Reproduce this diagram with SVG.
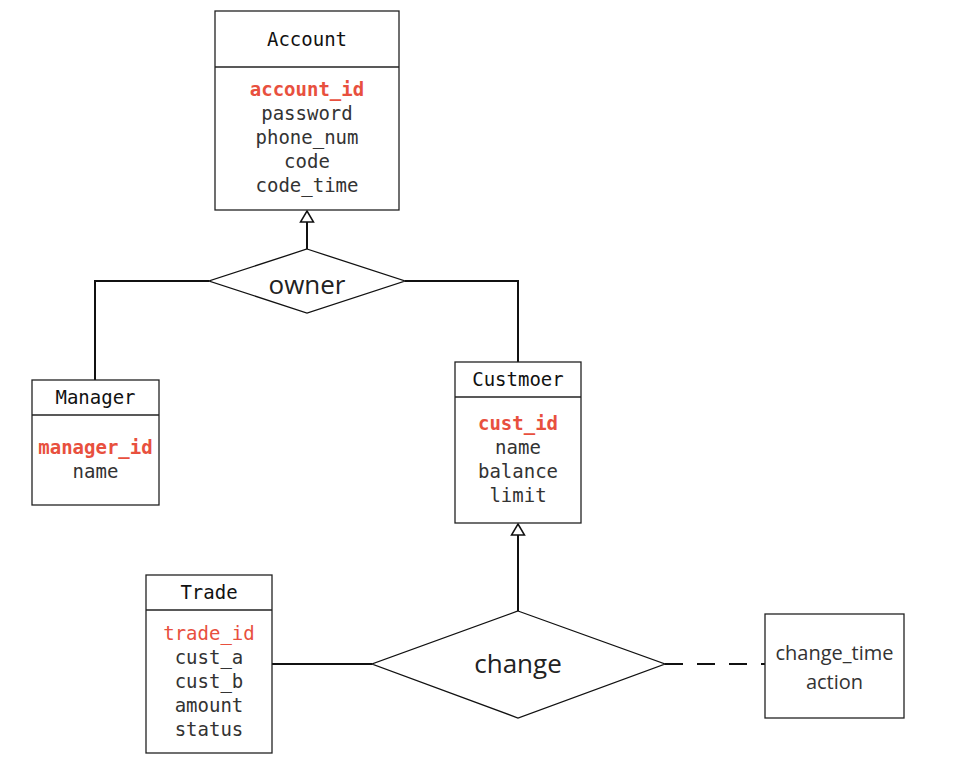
<svg xmlns="http://www.w3.org/2000/svg" width="954" height="768" viewBox="0 0 954 768">
<defs>
<style>
.box{fill:#fff;stroke:#222;stroke-width:1.3}
.title{font-family:"DejaVu Sans Mono","Liberation Mono",monospace;font-size:19px;fill:#111;text-anchor:middle}
.attr{font-family:"DejaVu Sans Mono","Liberation Mono",monospace;font-size:19px;fill:#333;text-anchor:middle}
.pk{fill:#e8503e;font-weight:bold}
.pk2{fill:#e8503e}
.rel{fill:#fff;stroke:#111;stroke-width:1.3}
.reltext{font-family:"Open Sans","Noto Sans",sans-serif;fill:#222;text-anchor:middle}
.conn{fill:none;stroke:#111;stroke-width:2}
.head{fill:#fff;stroke:#111;stroke-width:1.5}
.sans{font-family:"Open Sans","Noto Sans",sans-serif;font-size:20px;fill:#333;text-anchor:middle}
</style>
</defs>
<rect width="954" height="768" fill="#fff"/>
<g id="connectors">
<line class="conn" x1="307" y1="249" x2="307" y2="222"/>
<polyline class="conn" points="209,281 95,281 95,380"/>
<polyline class="conn" points="405,281 518,281 518,362"/>
<line class="conn" x1="518" y1="611" x2="518" y2="535"/>
<line class="conn" x1="272" y1="664" x2="372" y2="664"/>
<line class="conn" x1="665" y1="664" x2="765" y2="664" stroke-dasharray="18,14"/>
<path class="head" d="M307,211 L313.5,222 L300.5,222 Z"/>
<path class="head" d="M518,524 L524.5,535 L511.5,535 Z"/>
</g>
<g id="account">
<rect class="box" x="215" y="11" width="184" height="199"/>
<line class="box" x1="215" y1="67" x2="399" y2="67"/>
<text class="title" x="307" y="46">Account</text>
<text class="attr pk" x="307" y="96">account_id</text>
<text class="attr" x="307" y="120">password</text>
<text class="attr" x="307" y="144">phone_num</text>
<text class="attr" x="307" y="168">code</text>
<text class="attr" x="307" y="192">code_time</text>
</g>
<g id="owner">
<polygon class="rel" points="307,249 405,281 307,313 209,281"/>
<text class="reltext" x="307" y="294" font-size="26">owner</text>
</g>
<g id="manager">
<rect class="box" x="32" y="380" width="127" height="125"/>
<line class="box" x1="32" y1="415" x2="159" y2="415"/>
<text class="title" x="95.5" y="404">Manager</text>
<text class="attr pk" x="95.5" y="454">manager_id</text>
<text class="attr" x="95.5" y="478">name</text>
</g>
<g id="customer">
<rect class="box" x="455" y="362" width="126" height="161"/>
<line class="box" x1="455" y1="397" x2="581" y2="397"/>
<text class="title" x="518" y="386">Custmoer</text>
<text class="attr pk" x="518" y="430">cust_id</text>
<text class="attr" x="518" y="454">name</text>
<text class="attr" x="518" y="478">balance</text>
<text class="attr" x="518" y="502">limit</text>
</g>
<g id="trade">
<rect class="box" x="146" y="575" width="126" height="178"/>
<line class="box" x1="146" y1="610" x2="272" y2="610"/>
<text class="title" x="209" y="599">Trade</text>
<text class="attr pk2" x="209" y="640">trade_id</text>
<text class="attr" x="209" y="664">cust_a</text>
<text class="attr" x="209" y="688">cust_b</text>
<text class="attr" x="209" y="712">amount</text>
<text class="attr" x="209" y="736">status</text>
</g>
<g id="change">
<polygon class="rel" points="518,611 665,664 518,718 372,664"/>
<text class="reltext" x="518" y="673" font-size="26">change</text>
</g>
<g id="change_attrs">
<rect class="box" x="765" y="614" width="139" height="104"/>
<text class="sans" x="834.5" y="660">change_time</text>
<text class="sans" x="834.5" y="689">action</text>
</g>
</svg>
